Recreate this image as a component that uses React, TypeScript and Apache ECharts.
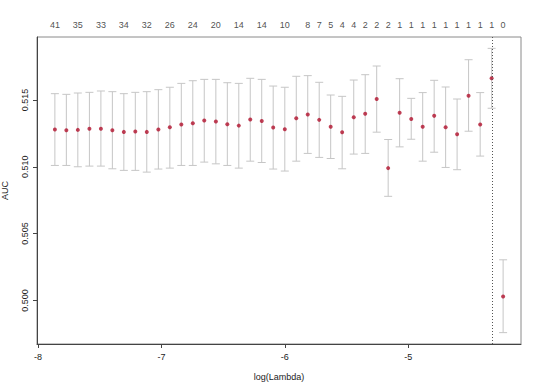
import React, { useEffect, useRef } from "react";
import * as echarts from "echarts";

const logLambda = [
  -7.864, -7.771, -7.678, -7.584, -7.491, -7.398, -7.305, -7.212, -7.119, -7.025,
  -6.932, -6.839, -6.746, -6.653, -6.559, -6.466, -6.373, -6.28, -6.187, -6.094,
  -6.0, -5.907, -5.814, -5.721, -5.628, -5.535, -5.441, -5.348, -5.255, -5.162,
  -5.069, -4.975, -4.882, -4.789, -4.696, -4.603, -4.51, -4.416, -4.323, -4.23,
];

const aucMean = [
  0.51279, 0.51274, 0.51276, 0.51284, 0.51284, 0.51274, 0.51261, 0.51264, 0.51261, 0.51279,
  0.51296, 0.51316, 0.51326, 0.51346, 0.51338, 0.51318, 0.51308, 0.51353, 0.51343, 0.51294,
  0.51281, 0.51363, 0.51391, 0.51351, 0.51299, 0.51259, 0.51371, 0.51396, 0.51507, 0.5099,
  0.51405, 0.51358, 0.51299, 0.51381, 0.51296, 0.51244, 0.51532, 0.51316, 0.51662, 0.5003,
];

const aucUpper = [
  0.51547, 0.51542, 0.51552, 0.51557, 0.51567, 0.51562, 0.51547, 0.51557, 0.51562, 0.51577,
  0.51595, 0.51624, 0.51644, 0.51654, 0.51654, 0.51629, 0.51624, 0.51662, 0.51654, 0.51604,
  0.51595, 0.51677, 0.51682, 0.51632, 0.51537, 0.51527, 0.51649, 0.51689, 0.51754, 0.51204,
  0.51659, 0.51512, 0.51555, 0.51647, 0.51597, 0.51507, 0.51801, 0.51555, 0.51886, 0.50304,
];

const aucLower = [
  0.5101, 0.5101, 0.51, 0.51005, 0.51005, 0.50985, 0.50973, 0.50973, 0.5096, 0.50983,
  0.5099, 0.5101, 0.5101, 0.51035, 0.51022, 0.5101, 0.5099, 0.51042, 0.51032, 0.50983,
  0.50968, 0.51042, 0.511, 0.5107, 0.51062, 0.50985, 0.51095, 0.511, 0.51259, 0.50779,
  0.51149, 0.51206, 0.51042, 0.51109, 0.50995, 0.50978, 0.51266, 0.5108, 0.51438, 0.49759,
];

const nonzeroCounts: (number | null)[] = [
  41, null, 35, null, 33, null, 34, null, 32, null,
  26, null, 24, null, 20, null, 14, null, 14, null,
  10, null, 8, 7, 5, 4, 4, 2, 2, 2,
  1, 1, 1, 1, 1, 1, 1, 1, 1, 0,
];

const xTicks = [-8, -7, -6, -5];
const yTicks = [0.5, 0.505, 0.51, 0.515];

const X_MIN = -8.009;
const X_MAX = -4.085;
const Y_MIN = 0.49674;
const Y_MAX = 0.51971;

const FONT = "'Liberation Sans', Arial, Helvetica, sans-serif";

export default function App() {
  const ref = useRef<HTMLDivElement>(null);

  useEffect(() => {
    if (!ref.current) return;
    const chart = echarts.init(ref.current, undefined, { renderer: "svg" });

    let bestIdx = 0;
    aucMean.forEach((v, i) => {
      if (v > aucMean[bestIdx]) bestIdx = i;
    });

    const barData = logLambda.map((x, i) => [x, aucLower[i], aucUpper[i]]);
    const pointData = logLambda.map((x, i) => [x, aucMean[i]]);
    const topLabelData = logLambda
      .map((x, i) => ({ value: [x, Y_MAX], count: nonzeroCounts[i] }))
      .filter((d) => d.count !== null);

    chart.setOption({
      animation: false,
      backgroundColor: "#ffffff",
      textStyle: { fontFamily: FONT },
      grid: {
        left: 37,
        right: 19,
        top: 37,
        bottom: 47,
        outerBoundsMode: "none",
        containLabel: false,
        show: true,
        borderColor: "#8a8a8a",
        borderWidth: 1,
        backgroundColor: "transparent",
      },
      xAxis: {
        type: "value",
        min: X_MIN,
        max: X_MAX,
        name: "log(Lambda)",
        nameLocation: "middle",
        nameGap: 28,
        nameTextStyle: { fontSize: 9, color: "#222", fontFamily: FONT },
        axisLine: { show: true, onZero: false, lineStyle: { color: "#444", width: 1 } },
        axisTick: { show: true, length: 4, customValues: xTicks, lineStyle: { color: "#444" } },
        axisLabel: {
          customValues: xTicks,
          fontSize: 9,
          color: "#222",
          margin: 8,
          fontFamily: FONT,
          formatter: (v: number) => String(v),
        },
        splitLine: { show: false },
      },
      yAxis: {
        type: "value",
        min: Y_MIN,
        max: Y_MAX,
        name: "AUC",
        nameLocation: "middle",
        nameGap: 28,
        nameRotate: 90,
        nameTextStyle: { fontSize: 9, color: "#222", fontFamily: FONT },
        axisLine: { show: true, onZero: false, lineStyle: { color: "#444", width: 1 } },
        axisTick: { show: true, length: 4, customValues: yTicks, lineStyle: { color: "#444" } },
        axisLabel: {
          customValues: yTicks,
          rotate: 90,
          fontSize: 9,
          color: "#222",
          margin: 8,
          fontFamily: FONT,
          formatter: (v: number) => v.toFixed(3),
        },
        splitLine: { show: false },
      },
      series: [
        {
          type: "custom",
          name: "errorbars",
          data: barData,
          renderItem: (params: any, api: any) => {
            const x = api.value(0);
            const lo = api.coord([x, api.value(1)]);
            const hi = api.coord([x, api.value(2)]);
            const hw = 4;
            const style = { stroke: "#c6c6c6", lineWidth: 1 };
            return {
              type: "group",
              children: [
                { type: "line", shape: { x1: lo[0], y1: lo[1], x2: hi[0], y2: hi[1] }, style },
                { type: "line", shape: { x1: hi[0] - hw, y1: hi[1], x2: hi[0] + hw, y2: hi[1] }, style },
                { type: "line", shape: { x1: lo[0] - hw, y1: lo[1], x2: lo[0] + hw, y2: lo[1] }, style },
              ],
            };
          },
          z: 2,
        },
        {
          type: "scatter",
          name: "AUC",
          data: pointData,
          symbol: "circle",
          symbolSize: 4,
          itemStyle: { color: "#b0102c" },
          z: 3,
          markLine: {
            silent: true,
            symbol: "none",
            label: { show: false },
            lineStyle: { color: "#555", type: [1, 2], width: 1 },
            data: [{ xAxis: logLambda[bestIdx] }],
          },
        },
        {
          type: "scatter",
          name: "nonzero",
          data: topLabelData,
          symbolSize: 0,
          clip: false,
          silent: true,
          label: {
            show: true,
            position: "top",
            distance: 8,
            fontSize: 9,
            color: "#222",
            fontFamily: FONT,
            formatter: (p: any) => String(p.data.count),
          },
          z: 4,
        },
      ],
    });

    return () => chart.dispose();
  }, []);

  return (
    <div
      ref={ref}
      style={{ position: "fixed", left: 0, top: 0, width: 540, height: 391, background: "#fff" }}
    />
  );
}
